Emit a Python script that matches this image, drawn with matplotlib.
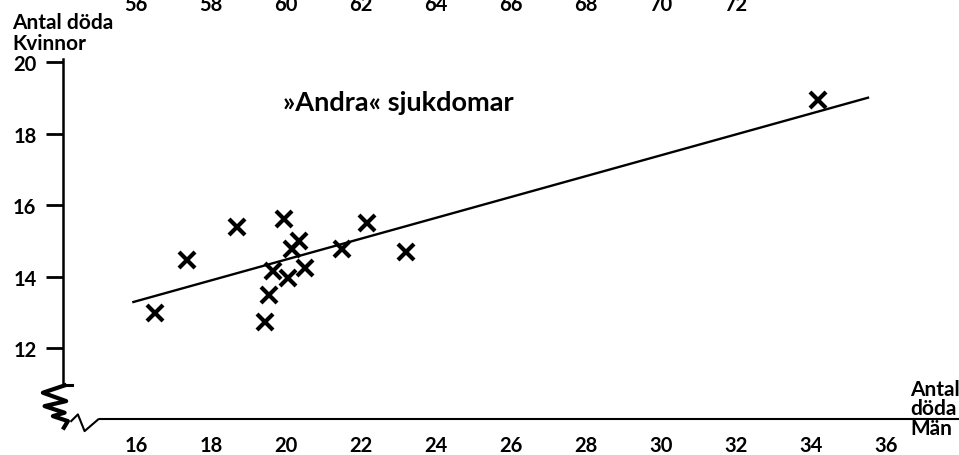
import matplotlib
matplotlib.use('Agg')
import matplotlib.pyplot as plt
import matplotlib.transforms as mtransforms

plt.rcParams['font.family'] = ['Lato', 'DejaVu Sans']
plt.rcParams['font.weight'] = 'bold'

# Data (Men = x, Women = y)
man = [16.5, 17.35, 18.7, 19.95, 22.15, 20.35, 20.15, 21.5, 23.2,
       19.65, 20.5, 20.05, 19.55, 19.45, 34.2]
kvinnor = [12.98, 14.47, 15.38, 15.61, 15.50, 15.01, 14.76, 14.77, 14.68,
           14.17, 14.23, 13.96, 13.49, 12.74, 18.96]

# drawn regression line (end points)
line_x = [15.9, 35.55]
line_y = [13.28, 19.02]

x_ticks = [16, 18, 20, 22, 24, 26, 28, 30, 32, 34, 36]
y_ticks = [12, 14, 16, 18, 20]
top_ticks = [56, 58, 60, 62, 64, 66, 68, 70, 72]   # cut-off scale of the chart above

fig = plt.figure(figsize=(9.59, 4.56), dpi=100)
ax = fig.add_axes([0, 0, 1, 1])
ax.set_xlim(12.373, 37.947)
ax.set_ylim(9.003, 21.776)
ax.patch.set_alpha(0)

# axes as spines placed in data coords
ax.spines['top'].set_visible(False)
ax.spines['right'].set_visible(False)
ax.spines['left'].set_position(('data', 14.05))
ax.spines['left'].set_bounds(10.96, 20.1)
ax.spines['left'].set_linewidth(1.8)
ax.spines['bottom'].set_position(('data', 10.0))
ax.spines['bottom'].set_bounds(15.04, 37.95)
ax.spines['bottom'].set_linewidth(1.5)

ax.set_xticks(x_ticks)
ax.set_yticks(y_ticks)
ax.tick_params(axis='x', length=0, pad=11.5, labelsize=14.5)
ax.tick_params(axis='y', direction='out', length=12, width=2, pad=7, labelsize=14.5)

# top scale, mostly cut off
sec = ax.secondary_xaxis(0.967, functions=(lambda v: v + 40, lambda v: v - 40))
sec.set_xticks(top_ticks)
sec.spines['top'].set_visible(False)
sec.tick_params(length=0, pad=0, labelsize=14.5)

# regression line and points
ax.plot(line_x, line_y, color='black', lw=1.7, solid_capstyle='butt')
ax.plot(man, kvinnor, ls='none', marker='x', ms=11, mew=3, color='black')

# axis break glyphs, offsets in pixels from the corner of the axes
corner = mtransforms.ScaledTranslation(14.05, 10.0, ax.transData)
px = mtransforms.Affine2D().scale(fig.dpi / 100, -fig.dpi / 100)
tr = px + corner
ax.plot([1.5, 9], [-34, -34], color='black', lw=2.2, transform=tr, clip_on=False)
ax.plot([1.7, -20, 3.3, -18.3, 1.7, -10, 5, 1], [-34, -26.7, -18.3, -13.3, -6.7, -3.3, 1.7, 8.3],
        color='black', lw=3, transform=tr, solid_joinstyle='round', clip_on=False)
ax.plot([8.3, 15, 21.7, 35.3], [1.7, -5, 11.7, 0],
        color='black', lw=1.5, transform=tr, clip_on=False)

# texts (pixel positions from top-left, baseline of the last line)
top_left = px + mtransforms.ScaledTranslation(0, 4.56, fig.dpi_scale_trans)
ax.text(12, 50, 'Antal döda\nKvinnor', transform=top_left,
        fontsize=15, va='baseline', ha='left', linespacing=1.05)
ax.text(283, 111, '»Andra« sjukdomar', transform=top_left,
        fontsize=19.5, va='baseline', ha='left')
ax.text(910, 435, 'Antal\ndöda\nMän', transform=top_left,
        fontsize=15, va='baseline', ha='left', linespacing=0.98)

fig.savefig('out.png', dpi=100)
